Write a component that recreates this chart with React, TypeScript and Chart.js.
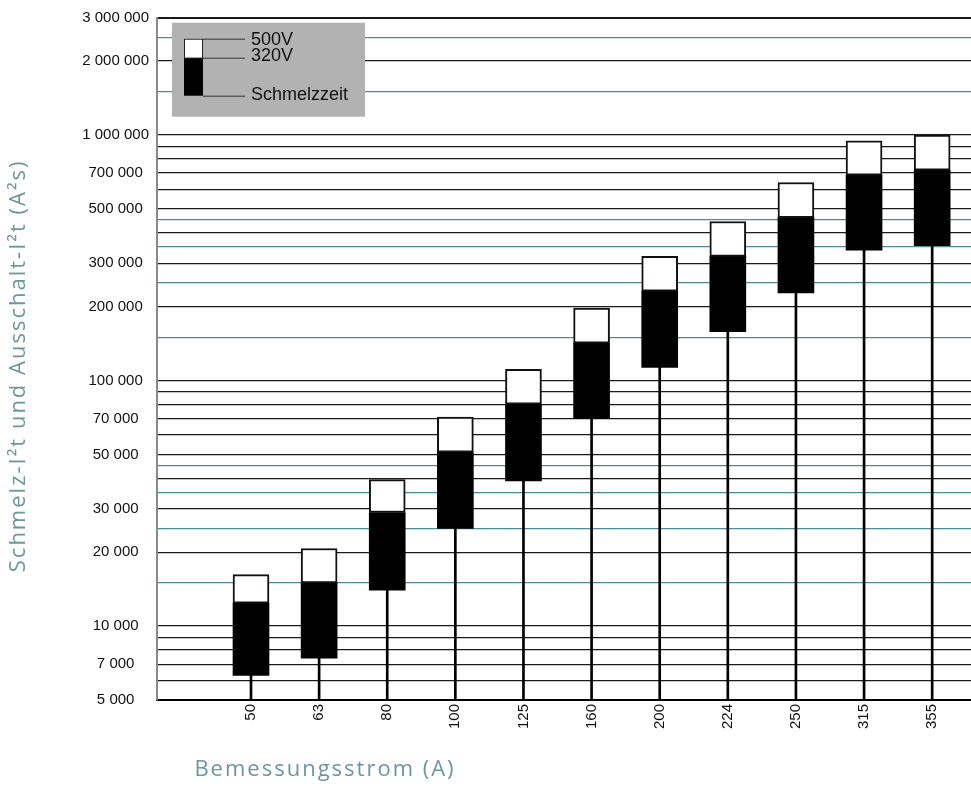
import React, { useEffect, useRef } from 'react';
import { Chart, registerables } from 'chart.js';

Chart.register(...registerables);

// ---- data ----
const categories = ['50', '63', '80', '100', '125', '160', '200', '224', '250', '315', '355'];
const meltI2t = [6300, 7400, 14000, 25000, 39000, 70000, 113000, 158000, 227000, 339000, 354000];
const clear320 = [12400, 15000, 29000, 51000, 80000, 142000, 231000, 320000, 460000, 685000, 718000];
const clear500 = [16200, 20700, 39500, 71000, 111000, 197000, 320000, 444000, 640000, 946000, 997000];

const yMin = 5000;
const yMax = 3000000;
const yGridValues = [
  5000, 6000, 7000, 8000, 9000, 10000, 15000, 20000, 25000, 30000, 35000, 40000, 45000, 50000,
  60000, 70000, 80000, 90000, 100000, 150000, 200000, 250000, 300000, 350000, 400000, 450000,
  500000, 600000, 700000, 800000, 900000, 1000000, 1500000, 2000000, 2500000, 3000000,
];
const yLabelValues = [
  5000, 7000, 10000, 20000, 30000, 50000, 70000, 100000, 200000, 300000, 500000, 700000,
  1000000, 2000000, 3000000,
];
const yMinorValues = [15000, 25000, 35000, 45000, 150000, 250000, 350000, 450000, 1500000, 2500000];

const legendLabels = ['500V', '320V', 'Schmelzzeit'];
const xTitle = 'Bemessungsstrom (A)';
const yTitle = 'Schmelz-I²t und Ausschalt-I²t (A²s)';

const TEAL = '#4f8b92';
const TITLE_COLOR = '#6c979f';
const TICK_FONT = 'Liberation Sans, Arial, sans-serif';
const TITLE_FONT = '"Open Sans", "Noto Sans", sans-serif';

const fmt = (v: number) => String(v).replace(/\B(?=(\d{3})+(?!\d))/g, ' ');

const overlayPlugin = {
  id: 'overlay',
  afterDraw(chart: any) {
    const { ctx, chartArea } = chart;
    ctx.save();
    // legend box
    const lx = chartArea.left + 15;
    const ly = chartArea.top + 5;
    ctx.fillStyle = '#b2b2b2';
    ctx.fillRect(lx, ly, 193, 94);
    const sx = lx + 12;
    const sw = 19;
    ctx.fillStyle = '#000';
    ctx.fillRect(sx, ly + 35, sw, 38);
    ctx.fillStyle = '#fff';
    ctx.fillRect(sx, ly + 16, sw, 19);
    ctx.strokeStyle = '#222';
    ctx.lineWidth = 1;
    ctx.strokeRect(sx + 0.5, ly + 16.5, sw - 1, 19);
    // leader lines
    const lineYs = [ly + 16, ly + 35, ly + 73];
    ctx.strokeStyle = '#333';
    ctx.lineWidth = 1;
    lineYs.forEach((y) => {
      ctx.beginPath();
      ctx.moveTo(sx + sw, y + 0.5);
      ctx.lineTo(sx + sw + 42, y + 0.5);
      ctx.stroke();
    });
    ctx.fillStyle = '#111';
    ctx.font = `18px ${TICK_FONT}`;
    ctx.textAlign = 'left';
    ctx.textBaseline = 'alphabetic';
    const textYs = [ly + 22, ly + 38, ly + 77];
    legendLabels.forEach((t, i) => ctx.fillText(t, sx + sw + 48, textYs[i]));

    // axis titles
    ctx.fillStyle = TITLE_COLOR;
    ctx.font = `22px ${TITLE_FONT}`;
    try {
      (ctx as any).letterSpacing = '2px';
    } catch (e) {
      /* ignore */
    }
    ctx.textAlign = 'center';
    ctx.textBaseline = 'middle';
    ctx.fillText(xTitle, chartArea.left + 168, chartArea.bottom + 70);

    ctx.translate(19, (chartArea.top + chartArea.bottom) / 2 + 7);
    ctx.rotate(-Math.PI / 2);
    ctx.fillText(yTitle, 0, 0);
    ctx.restore();
  },
};

export default function App() {
  const ref = useRef<HTMLCanvasElement>(null);

  useEffect(() => {
    if (!ref.current) return;
    const idx = categories.map((_, i) => i);
    const chart = new Chart(ref.current, {
      type: 'bar',
      data: {
        datasets: [
          {
            label: '500V',
            data: idx.map((i) => ({ x: i, y: [clear320[i], clear500[i]] })) as any,
            backgroundColor: '#ffffff',
            borderColor: '#111111',
            borderWidth: 2,
            borderSkipped: false,
            barThickness: 36,
            grouped: false,
          } as any,
          {
            label: '320V',
            data: idx.map((i) => ({ x: i, y: [meltI2t[i], clear320[i]] })) as any,
            backgroundColor: '#000000',
            borderWidth: 0,
            barThickness: 36,
            grouped: false,
          } as any,
          {
            label: 'Schmelzzeit',
            data: idx.map((i) => ({ x: i, y: [yMin, meltI2t[i]] })) as any,
            backgroundColor: '#000000',
            borderWidth: 0,
            barThickness: 2,
            grouped: false,
          } as any,
        ],
      },
      options: {
        animation: false,
        responsive: false,
        maintainAspectRatio: false,
        devicePixelRatio: 1,
        layout: { padding: { top: 17.7, right: 0, bottom: 0, left: 0 } },
        plugins: {
          legend: { display: false },
          tooltip: { enabled: false },
          title: { display: false },
        },
        scales: {
          x: {
            type: 'linear',
            offset: false,
            min: -1.38,
            max: 10.57,
            afterBuildTicks: (s: any) => {
              s.ticks = idx.map((i) => ({ value: i }));
            },
            afterFit: (s: any) => {
              s.height = 100;
            },
            grid: { display: false, drawTicks: false, offset: false },
            border: { display: true, color: '#000', width: 2 },
            ticks: {
              autoSkip: false,
              minRotation: 90,
              maxRotation: 90,
              padding: 4,
              color: '#111',
              font: { family: TICK_FONT, size: 15 },
              callback: (v: any) => categories[v] ?? '',
            },
          },
          y: {
            type: 'logarithmic',
            min: yMin,
            max: yMax,
            afterBuildTicks: (s: any) => {
              s.ticks = yGridValues.map((v) => ({ value: v }));
            },
            afterFit: (s: any) => {
              s.width = 157;
            },
            grid: {
              drawTicks: false,
              color: (c: any) => (c.tick && yMinorValues.includes(c.tick.value) ? TEAL : '#1a1a1a'),
              lineWidth: (c: any) => (c.tick && c.tick.value === yMax ? 2 : 1.2),
            },
            border: { display: true, color: '#8a8a8a', width: 2 },
            ticks: {
              autoSkip: false,
              crossAlign: 'center',
              padding: 8,
              color: '#111',
              font: { family: TICK_FONT, size: 15 },
              callback: (v: any) => (yLabelValues.includes(Number(v)) ? fmt(Number(v)) : ''),
            },
          },
        },
      } as any,
      plugins: [overlayPlugin],
    });
    return () => chart.destroy();
  }, []);

  return (
    <div style={{ position: 'absolute', left: 0, top: 0, width: 971, height: 800 }}>
      <canvas ref={ref} width={971} height={800} />
    </div>
  );
}
